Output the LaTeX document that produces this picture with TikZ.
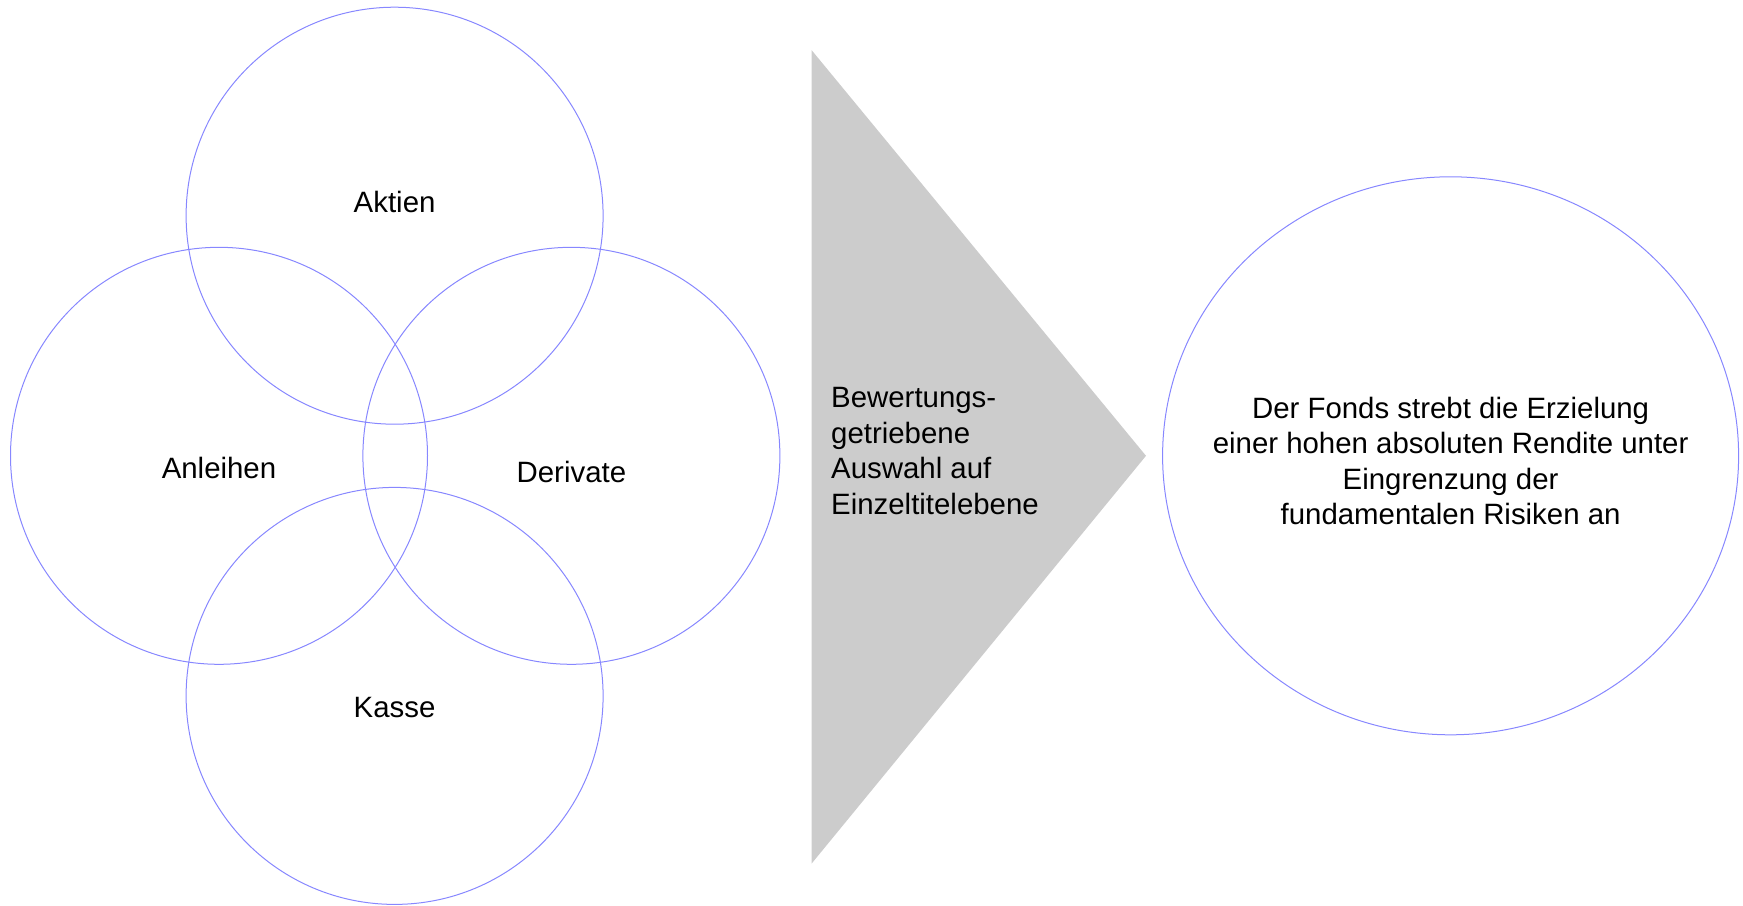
\documentclass[tikz,border=0pt]{standalone}
\usepackage{fontspec}
\setmainfont{Liberation Sans}
\usetikzlibrary{shapes.geometric}

\begin{document}
\begin{tikzpicture}[x=1pt, y=-1pt,
  ring/.style={circle, draw=ringblue, line width=1pt, minimum size=417pt, inner sep=0pt},
  lbl/.style={font=\fontsize{29.4}{35.5}\selectfont, inner sep=0pt}]

%─────────────
% Controls
%─────────────
\definecolor{ringblue}{rgb}{0.53,0.53,1.0}  % thin violet-blue outline
\definecolor{arrowgray}{rgb}{0.80,0.80,0.80}  % grey arrow head
\useasboundingbox (0,0) rectangle (1743,905);

%───────────────────────────────────────────────
% One ring of the asset-class cluster
% #1 = name, (#2, #3) = centre
%───────────────────────────────────────────────
\newcommand{\drawAssetRing}[3]{%
  \node[ring] (#1) at (#2,#3) {};
}

% rings
\drawAssetRing{aktien}{394.6}{215.7}
\drawAssetRing{anleihen}{219}{455.8}
\drawAssetRing{derivate}{571.4}{455.8}
\drawAssetRing{kasse}{394.6}{695.9}

% labels
\node[lbl] (tAktien)   at (394.6,202) {Aktien};
\node[lbl] (tAnleihen) at (219,468)   {Anleihen};
\node[lbl] (tDerivate) at (571.4,472) {Derivate};
\node[lbl] (tKasse)    at (394.6,708) {Kasse};

%─────────────
% Arrow head
%─────────────
\coordinate (pTop) at (811.5,50);
\coordinate (pBot) at (811.5,863.7);
\coordinate (pTip) at (1146,455.8);
\fill[arrowgray] (pTop) -- (pTip) -- (pBot) -- cycle;

\node[lbl, anchor=west, align=left] (auswahl) at (831,451)
  {Bewertungs-\\getriebene\\Auswahl auf\\Einzeltitelebene};

%─────────────
% Goal
%─────────────
\node[ellipse, draw=ringblue, line width=1pt, minimum width=576pt,
      minimum height=558pt, inner sep=0pt] (ziel) at (1450.6,455.8) {};
\node[lbl, align=center] (zielText) at (1450.6,461)
  {Der Fonds strebt die Erzielung\\einer hohen absoluten Rendite unter\\Eingrenzung der\\fundamentalen Risiken an};

\end{tikzpicture}
\end{document}
